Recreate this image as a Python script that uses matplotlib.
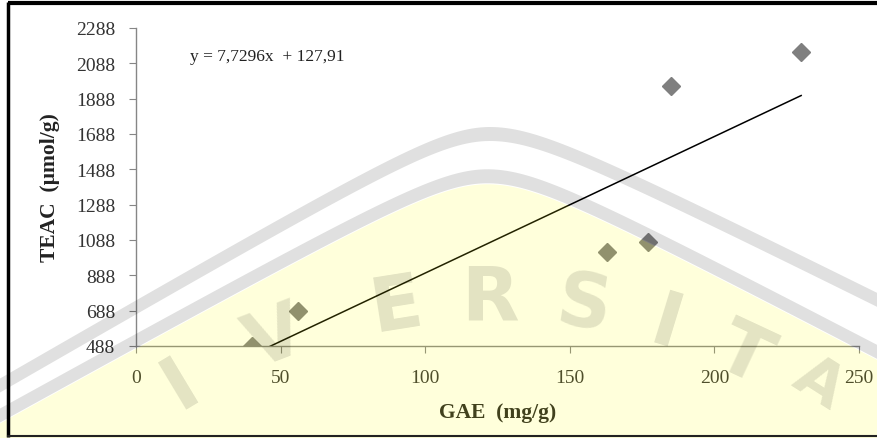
import numpy as np
import matplotlib
matplotlib.use("Agg")
import matplotlib.pyplot as plt
from matplotlib.patches import Polygon

# data
gae = [40, 56, 163, 177, 185, 230]          # GAE (mg/g)
teac = [490, 686, 1020, 1077, 1960, 2152]   # TEAC (umol/g)
slope, intercept = 7.7296, 127.91           # linear trendline
x_ticks = [0, 50, 100, 150, 200, 250]
y_ticks = [488, 688, 888, 1088, 1288, 1488, 1688, 1888, 2088, 2288]
eq_text = "y = 7,7296x  + 127,91"

plt.rcParams['font.family'] = ['Liberation Serif', 'DejaVu Serif']

W, H = 877, 439
fig = plt.figure(figsize=(W / 100, H / 100), dpi=100, facecolor='white')
ax = fig.add_axes([136 / W, 1 - 347 / H, (859 - 136) / W, (347 - 29) / H])

ax.plot(gae, teac, linestyle='none', marker='D', markersize=9.5,
        color='#7f7f7f', zorder=3)
tx = np.array([min(gae), max(gae)])
ax.plot(tx, slope * tx + intercept, color='black', lw=1.1, zorder=2)

ax.set_xlim(0, 250)
ax.set_ylim(488, 2288)
ax.set_xticks(x_ticks)
ax.set_yticks(y_ticks)
ax.spines['top'].set_visible(False)
ax.spines['right'].set_visible(False)
for s in ['left', 'bottom']:
    ax.spines[s].set_color('#868686')
    ax.spines[s].set_linewidth(1)
ax.tick_params(axis='both', direction='out', length=5, color='#868686',
               labelsize=14, labelcolor='#333333')
ax.tick_params(axis='x', pad=11.5)
ax.tick_params(axis='y', pad=10)

ax.set_xlabel("GAE  (mg/g)", fontsize=15.5, fontweight='bold', color='#222222')
ax.set_ylabel("TEAC  (µmol/g)", fontsize=15.5, fontweight='bold', color='#222222')
ax.xaxis.set_label_coords(0.5, -0.175)
ax.yaxis.set_label_coords(-0.105, 0.5)

ax.text(18.5, 2129, eq_text, fontsize=12.5, color='#222222', va='center', ha='left')

# watermark overlay + frame, drawn in pixel coordinates
wm = fig.add_axes([0, 0, 1, 1], zorder=10)
wm.set_xlim(0, W)
wm.set_ylim(H, 0)
wm.axis('off')
wm.patch.set_alpha(0)

# smooth roof-shaped arch of the logo
bx = np.linspace(0, W, 200)
k = np.where(bx < 490, 0.58, 0.5)
outer_c = 135 + k * (np.sqrt((bx - 490) ** 2 + 60 ** 2) - 60)
inner_c = outer_c + np.linspace(30, 52, len(bx))


def band(center, half):
    top = list(zip(bx, center - half))
    bot = list(zip(bx[::-1], (center + half)[::-1]))
    return top + bot


wm.add_patch(Polygon(band(outer_c, 7), closed=True, facecolor='black',
                     alpha=0.12, lw=0))
wm.add_patch(Polygon(band(inner_c, 7), closed=True, facecolor='black',
                     alpha=0.12, lw=0))
yellow = list(zip(bx, inner_c + 8)) + [(W, H), (0, H)]
wm.add_patch(Polygon(yellow, closed=True, facecolor=(1, 1, 0), alpha=0.14, lw=0))

cx, cy = 490, 900
letters = "IVERSITA"
angles = [121, 111, 99, 90, 81, 73, 65, 57.5]
sizes = [54, 54, 54, 54, 54, 54, 54, 44]
radii = [600, 600, 600, 600, 600, 600, 600, 612]
for ch, a, fs, rr in zip(letters, angles, sizes, radii):
    t = np.radians(a)
    wm.text(cx + rr * np.cos(t), cy - rr * np.sin(t), ch, fontsize=fs,
            family='DejaVu Sans', fontweight='bold', color='black', alpha=0.11,
            rotation=a - 90, ha='center', va='center')

wm.plot([8, W], [4, 4], color='black', lw=3, solid_capstyle='butt')
wm.plot([8, 8], [3, 438], color='black', lw=2.5, solid_capstyle='butt')
wm.plot([8, W], [437.5, 437.5], color='#222222', lw=1.5)

fig.savefig("out.png", dpi=100, facecolor='white')
